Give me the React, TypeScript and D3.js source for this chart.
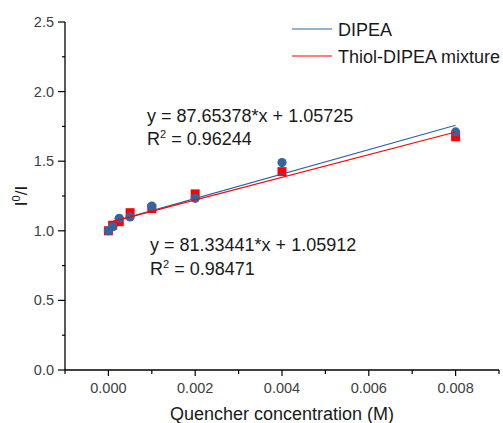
import React from "react";
import * as d3 from "d3";

const xValues = [0, 0.0001, 0.00025, 0.0005, 0.001, 0.002, 0.004, 0.008];
const dipeaValues = [1.0, 1.03, 1.09, 1.1, 1.178, 1.233, 1.49, 1.71];
const mixtureValues = [1.0, 1.04, 1.065, 1.13, 1.16, 1.265, 1.425, 1.676];
const dipeaFit = { slope: 87.65378, intercept: 1.05725 };
const mixtureFit = { slope: 81.33441, intercept: 1.05912 };
const xMajorTicks = [0, 0.002, 0.004, 0.006, 0.008];
const xMinorTicks = [-0.001, 0.001, 0.003, 0.005, 0.007, 0.009];
const yMajorTicks = [0, 0.5, 1.0, 1.5, 2.0, 2.5];
const yMinorTicks = [0.25, 0.75, 1.25, 1.75, 2.25];
const seriesNames = ["DIPEA", "Thiol-DIPEA mixture"];

const W = 503;
const H = 423;
const FONT = "'Liberation Sans', Arial, sans-serif";
const BLUE = "#3465a0";
const BLUE_LINE = "#2f62a6";
const RED = "#ff0000";

export default function App() {
  const x = d3.scaleLinear().domain([-0.001, 0.009]).range([65, 499]);
  const y = d3.scaleLinear().domain([0, 2.5]).range([370, 22]);
  const fmtX = d3.format(".3f");
  const fmtY = d3.format(".1f");

  const fitLine = (f: { slope: number; intercept: number }) =>
    d3.line<number>()
      .x((v) => x(v))
      .y((v) => y(f.slope * v + f.intercept))([0, 0.008]) as string;

  const sq = 9;
  const big = 18;
  return (
    <svg
      width={W}
      height={H}
      style={{ position: "absolute", left: 0, top: 0, background: "#fff" }}
      fontFamily={FONT}
    >
      {/* markers */}
      {xValues.map((xv, i) => (
        <rect
          key={"s" + i}
          x={x(xv) - sq / 2}
          y={y(mixtureValues[i]) - sq / 2}
          width={sq}
          height={sq}
          fill={RED}
        />
      ))}
      {xValues.map((xv, i) => (
        <circle key={"c" + i} cx={x(xv)} cy={y(dipeaValues[i])} r={4.6} fill={BLUE} />
      ))}
      {/* fit lines */}
      <path d={fitLine(dipeaFit)} stroke={BLUE_LINE} strokeWidth={1.2} fill="none" />
      <path d={fitLine(mixtureFit)} stroke={RED} strokeWidth={1.2} fill="none" />

      {/* axes */}
      <line x1={65} x2={65} y1={y(2.5)} y2={370} stroke="#000" strokeWidth={1.3} />
      <line x1={65} x2={499} y1={370} y2={370} stroke="#000" strokeWidth={1.3} />
      {yMajorTicks.map((t) => (
        <g key={"ym" + t}>
          <line x1={58} x2={65} y1={y(t)} y2={y(t)} stroke="#000" strokeWidth={1.2} />
          <text x={54} y={y(t) + 5} textAnchor="end" fontSize={14.5} fill="#404040">
            {fmtY(t)}
          </text>
        </g>
      ))}
      {yMinorTicks.map((t) => (
        <line key={"yn" + t} x1={62} x2={65} y1={y(t)} y2={y(t)} stroke="#000" strokeWidth={1.2} />
      ))}
      {xMajorTicks.map((t) => (
        <g key={"xm" + t}>
          <line x1={x(t)} x2={x(t)} y1={370} y2={376} stroke="#000" strokeWidth={1.2} />
          <text x={x(t)} y={393} textAnchor="middle" fontSize={14.5} fill="#404040">
            {fmtX(t)}
          </text>
        </g>
      ))}
      {xMinorTicks.map((t) => (
        <line key={"xn" + t} x1={x(t)} x2={x(t)} y1={370} y2={374} stroke="#000" strokeWidth={1.2} />
      ))}

      {/* axis titles */}
      <text x={282} y={420} textAnchor="middle" fontSize={big} fill="#1a1a1a">
        Quencher concentration (M)
      </text>
      <text
        transform={`translate(27, 196) rotate(-90)`}
        textAnchor="middle"
        fontSize={17}
        fill="#1a1a1a"
      >
        I<tspan fontSize={11} dy={-7}>0</tspan>
        <tspan dy={7}>/I</tspan>
      </text>

      {/* equations */}
      <text x={147} y={122} fontSize={big} fill="#1a1a1a">
        y = {dipeaFit.slope.toFixed(5)}*x + {dipeaFit.intercept.toFixed(5)}
      </text>
      <text x={147} y={145} fontSize={big} fill="#1a1a1a">
        R<tspan fontSize={11} dy={-7}>2</tspan>
        <tspan dy={7}> = 0.96244</tspan>
      </text>
      <text x={150} y={251} fontSize={big} fill="#1a1a1a">
        y = {mixtureFit.slope.toFixed(5)}*x + {mixtureFit.intercept.toFixed(5)}
      </text>
      <text x={150} y={275} fontSize={big} fill="#1a1a1a">
        R<tspan fontSize={11} dy={-7}>2</tspan>
        <tspan dy={7}> = 0.98471</tspan>
      </text>

      {/* legend */}
      <line x1={292} x2={332} y1={29} y2={29} stroke={BLUE_LINE} strokeWidth={1.2} />
      <text x={338} y={36} fontSize={big} fill="#1a1a1a">{seriesNames[0]}</text>
      <line x1={292} x2={332} y1={56} y2={56} stroke={RED} strokeWidth={1.2} />
      <text x={338} y={63} fontSize={big} fill="#1a1a1a">{seriesNames[1]}</text>
    </svg>
  );
}
